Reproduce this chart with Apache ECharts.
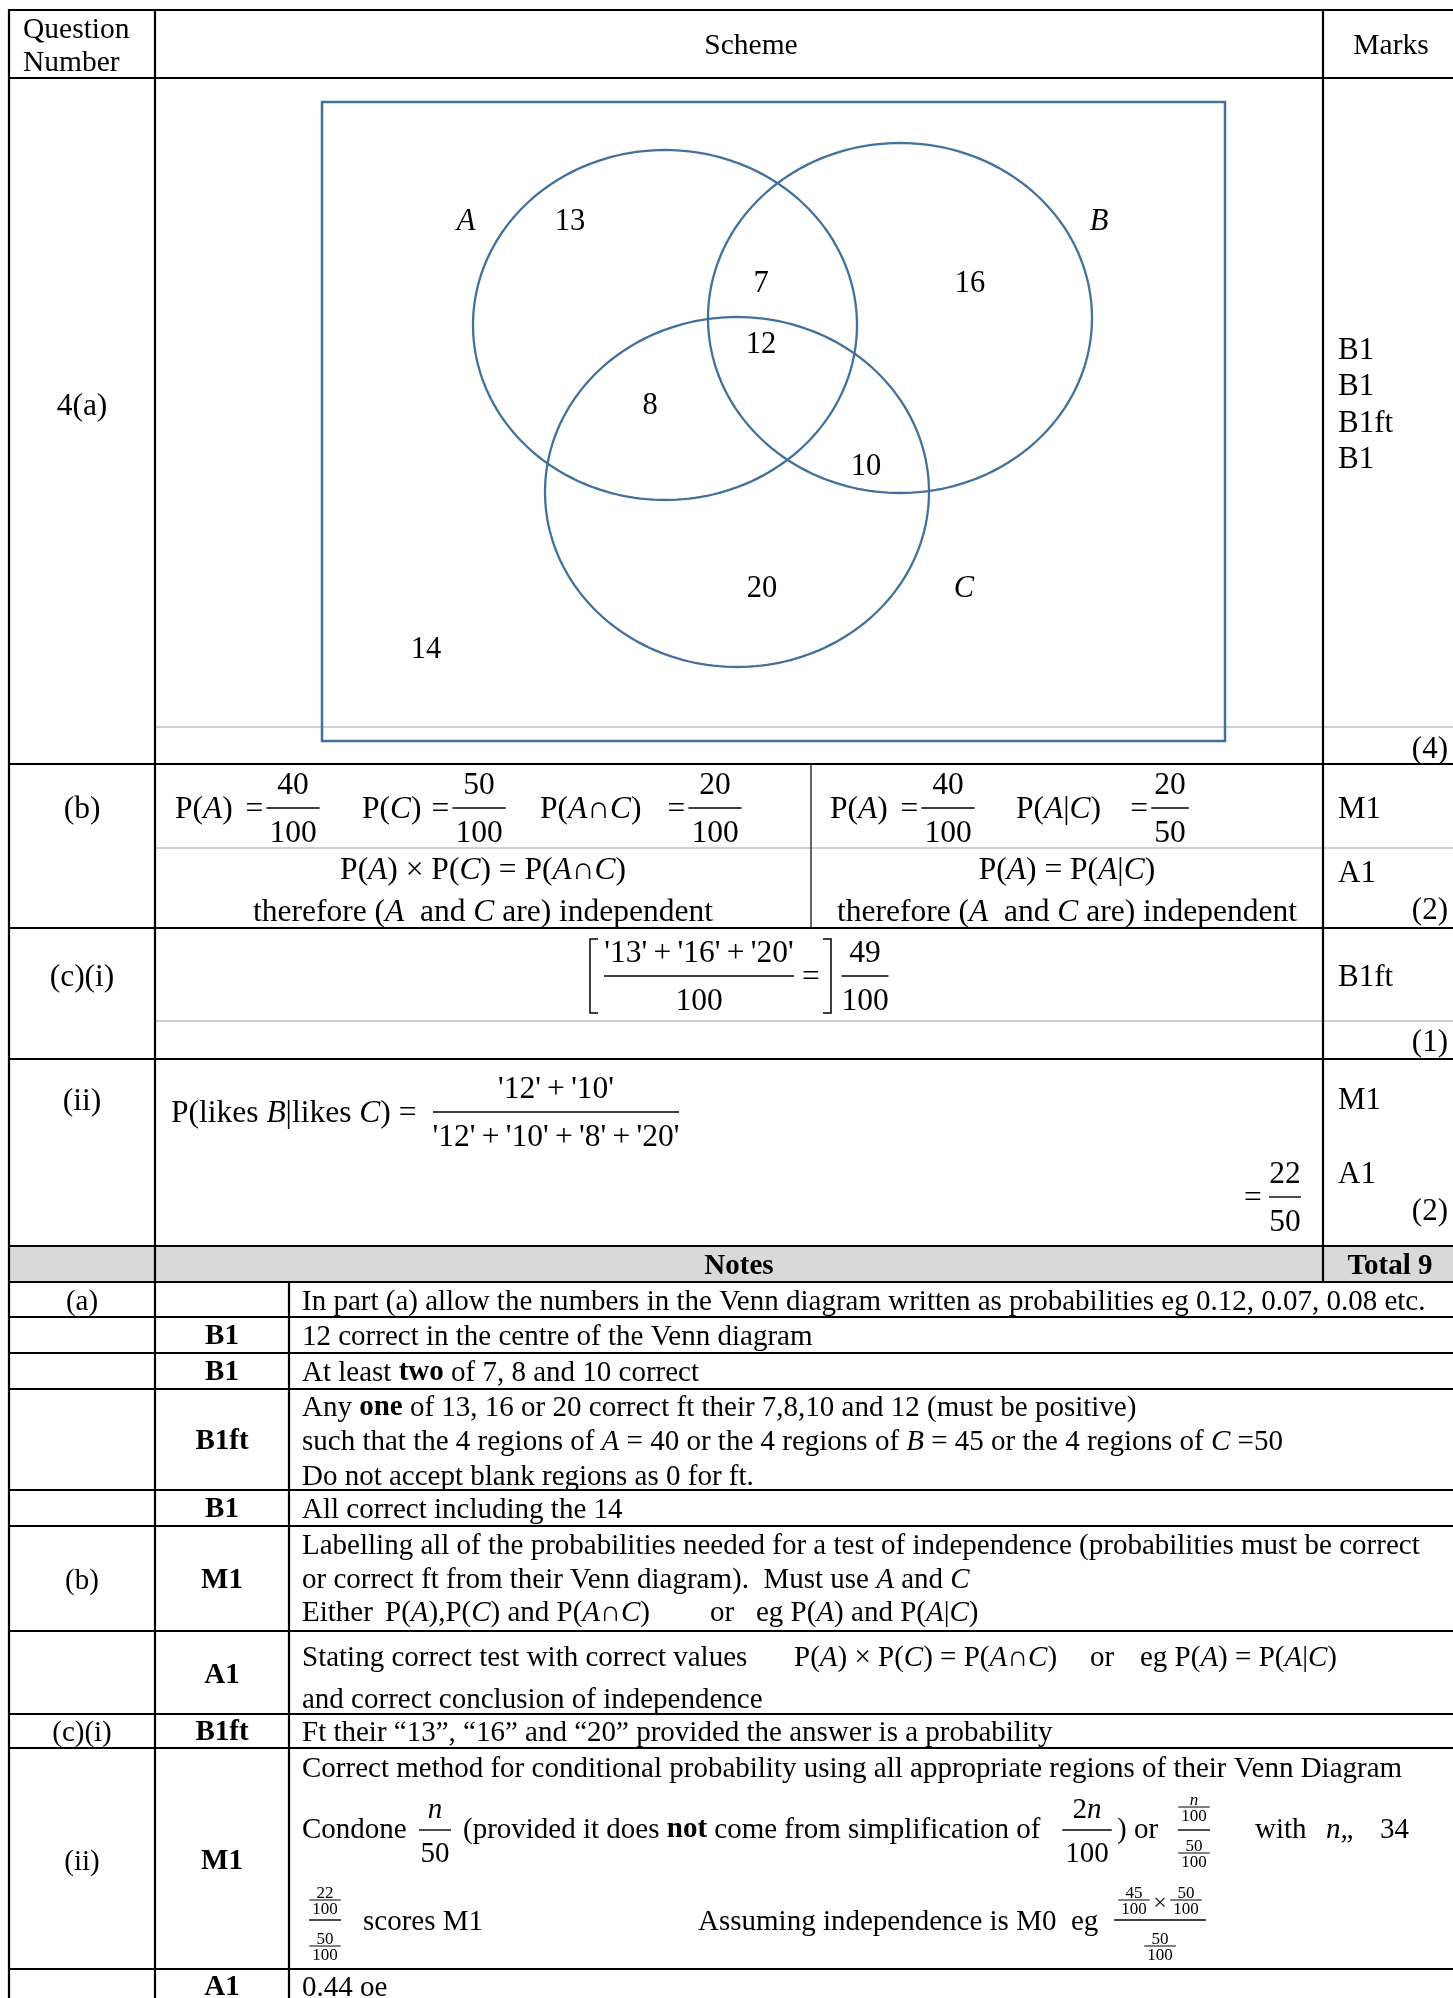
<!DOCTYPE html>
<html>
<head>
<meta charset="utf-8">
<title>Mark scheme 4 - Venn diagram</title>
<script src="https://cdn.jsdelivr.net/npm/echarts@6.0.0/dist/echarts.min.js"></script>
<style>
  html, body { margin: 0; padding: 0; background: #fff; }
  #main { width: 1453px; height: 1998px; }
</style>
</head>
<body>
<div id="main"></div>
<script>
// ---- values ----
const setNames = ['A', 'B', 'C']
// regions: A only, A&B only, B only, A&B&C, A&C only, B&C only, C only, outside
const regionCounts = [13, 7, 16, 12, 8, 10, 20, 14]
const setMembers = { A: [0, 1, 3, 4], B: [1, 2, 3, 5], C: [3, 4, 5, 6] }
const marksA = ['B1', 'B1', 'B1ft', 'B1']
const marksB = ['M1', 'A1']
const marksCi = ['B1ft']
const marksCii = ['M1', 'A1']
const partTotals = ['(4)', '(2)', '(1)', '(2)']

// ---- layout (pixels, the hidden axes run 1:1 with the page) ----
const vennBox = [[322, 102, 1225, 741]]
const vennEllipses = [[665, 325, 192, 175], [900, 318, 192, 175], [737, 492, 192, 175]]
const regionAnchors = [[570, 222], [761, 284], [970, 284], [761, 345], [650, 406], [866, 467], [762, 589], [426, 650]]
const setLabelAnchors = [[466, 222], [1099, 222], [964, 589]]

const SERIF = '"Liberation Serif", "Times New Roman", Times, serif'
const FS = 29        // notes
const FS_HEAD = 29.5
const FS_SCH = 31.5  // scheme cells
const FS_MARK = 31
const FS_VENN = 30.5
const DY = 2
const BLUE = '#41719c'
const TH = '\u2009'  // thin space

// derived counts
const sum = idx => idx.reduce((a, i) => a + regionCounts[i], 0)
const total = regionCounts.reduce((a, b) => a + b, 0)
const nA = sum(setMembers.A)
const nC = sum(setMembers.C)
const nAC = sum([3, 4])
const nOnly = sum([0, 2, 6])
const nBC = sum([3, 5])
const q = v => "'" + v + "'"
const plus = arr => arr.map(q).join(TH + '+' + TH)

const ctx = document.createElement('canvas').getContext('2d')
function measure (s, size) {
  ctx.font = size + 'px ' + SERIF
  return ctx.measureText(String(s).replace(/\*/g, '')).width
}

// *x* italic, **x** bold
function richText (s) {
  return String(s).split(/(\*\*[^*]+\*\*|\*[^*]+\*)/).filter(p => p).map(p => {
    if (p.startsWith('**')) return '{b|' + p.slice(2, -2) + '}'
    if (p.startsWith('*')) return '{i|' + p.slice(1, -1) + '}'
    return '{n|' + p + '}'
  }).join('')
}

function T (x, y, s, o) {
  o = o || {}
  const size = o.size || FS
  const align = o.align || 'left'
  const st = (fontStyle, fontWeight) => ({ fontFamily: SERIF, fontSize: size, fontStyle, fontWeight, fill: '#000', lineHeight: size * 1.15 })
  return {
    type: 'text', x, y: y + DY, z: 10, silent: true,
    style: {
      text: richText(s),
      rich: { n: st('normal', 'normal'), i: st('italic', 'normal'), b: st('normal', 'bold') },
      fontFamily: SERIF, fontSize: size, fill: '#000',
      align, verticalAlign: 'middle', textAlign: align, textVerticalAlign: 'middle'
    }
  }
}
const S = (x, y, s, o) => T(x, y, s, Object.assign({ size: FS_SCH }, o))
const M = (x, y, s, o) => T(x, y, s, Object.assign({ size: FS_MARK }, o))

function L (x1, y1, x2, y2, w, c) {
  return { type: 'line', z: 5, silent: true, shape: { x1, y1, x2, y2 }, style: { stroke: c || '#000', lineWidth: w || 2 } }
}

function frac (cx, y, num, den, o) {
  o = o || {}
  const size = o.size || FS_SCH
  const gap = o.gap || Math.round(size * 0.76)
  const w = o.width || Math.max(measure(num, size), measure(den, size)) + (o.pad || 6)
  return [
    T(cx, y - gap, String(num), { align: 'center', size }),
    T(cx, y + gap, String(den), { align: 'center', size }),
    L(cx - w / 2, y, cx + w / 2, y, o.lw || 1.4)
  ]
}

// "P(..) = num/den" with the equals sign just before the fraction bar
function probEq (x, label, cx, num, den) {
  const fr = frac(cx, 808, num, den)
  const barStart = fr[2].shape.x1
  return [S(x, 808, label), S(barStart - 12, 808, '=', { align: 'center' })].concat(fr)
}

const els = []
const add = (...a) => a.forEach(e => Array.isArray(e) ? els.push(...e) : els.push(e))

// ---- table rules ----
const X0 = 9, X1 = 155, X2 = 289, XM = 1323, XR = 1453
const blackRules = [10, 78, 764, 928, 1059, 1246, 1282, 1317, 1353, 1389, 1490, 1526, 1631, 1714, 1748, 1969]
const grayRules = [727, 848, 1021]

add({ type: 'rect', z: 1, silent: true, shape: { x: X0, y: 1246, width: XR - X0, height: 36 }, style: { fill: '#d9d9d9' } })
grayRules.forEach(y => add(L(X1, y, XR, y, 2, '#d0d0d0')))
blackRules.forEach(y => add(L(X0, y, XR, y, 2.2)))
add(L(X0, 9, X0, 1998, 2.2), L(X1, 9, X1, 1998, 2.2), L(XM, 9, XM, 1282, 2.2), L(X2, 1282, X2, 1998, 2.2))
add(L(811, 764, 811, 928, 1.2))

// ---- header ----
add(T(23, 28, 'Question', { size: FS_HEAD }), T(23, 61, 'Number', { size: FS_HEAD }))
add(T(751, 44, 'Scheme', { align: 'center', size: FS_HEAD }), T(1391, 44, 'Marks', { align: 'center', size: FS_HEAD }))

// ---- (a) ----
add(S(82, 405, '4(a)', { align: 'center' }))
marksA.forEach((m, i) => add(M(1338, 349 + i * 36.3, m)))
add(M(1448, 748, partTotals[0], { align: 'right' }))

// ---- (b) ----
add(S(82, 808, '(b)', { align: 'center' }))
add(probEq(175, 'P(*A*)', 293, nA, total))
add(probEq(362, 'P(*C*)', 479, nC, total))
add(probEq(540, 'P(*A*∩*C*)', 715, nAC, total))
add(probEq(830, 'P(*A*)', 948, nA, total))
add(probEq(1016, 'P(*A*|*C*)', 1170, nAC, nC))
add(S(483, 869, 'P(*A*) × P(*C*) = P(*A*∩*C*)', { align: 'center' }))
add(S(483, 911, 'therefore (*A*  and *C* are) independent', { align: 'center' }))
add(S(1067, 869, 'P(*A*) = P(*A*|*C*)', { align: 'center' }))
add(S(1067, 911, 'therefore (*A*  and *C* are) independent', { align: 'center' }))
add(M(1338, 808, marksB[0]), M(1338, 872, marksB[1]), M(1448, 909, partTotals[1], { align: 'right' }))

// ---- (c)(i) ----
add(S(82, 976, '(c)(i)', { align: 'center' }))
add({ type: 'polyline', z: 5, silent: true, shape: { points: [[598, 939], [590, 939], [590, 1013], [598, 1013]] }, style: { stroke: '#000', lineWidth: 1.5, fill: null } })
add({ type: 'polyline', z: 5, silent: true, shape: { points: [[823, 939], [831, 939], [831, 1013], [823, 1013]] }, style: { stroke: '#000', lineWidth: 1.5, fill: null } })
add(frac(699, 976, plus([regionCounts[0], regionCounts[2], regionCounts[6]]), total, { width: 190 }))
add(S(811, 976, '=', { align: 'center' }))
add(frac(865, 976, nOnly, total, { width: 47 }))
add(M(1338, 976, marksCi[0]), M(1448, 1041, partTotals[2], { align: 'right' }))

// ---- (ii) ----
add(S(82, 1100, '(ii)', { align: 'center' }))
add(S(171, 1112, 'P(likes *B*|likes *C*) ='))
add(frac(556, 1112, plus([regionCounts[3], regionCounts[5]]),
  plus([regionCounts[3], regionCounts[5], regionCounts[4], regionCounts[6]]), { width: 246 }))
add(S(1253, 1197, '=', { align: 'center' }), frac(1285, 1197, nBC, nC, { width: 32 }))
add(M(1338, 1099, marksCii[0]), M(1338, 1173, marksCii[1]), M(1448, 1210, partTotals[3], { align: 'right' }))

// ---- notes ----
const NX = 302
const MC = 222
add(T(739, 1265, '**Notes**', { align: 'center' }), T(1390, 1265, '**Total 9**', { align: 'center' }))

add(T(82, 1300, '(a)', { align: 'center' }))
add(T(NX, 1300, 'In part (a) allow the numbers in the Venn diagram written as probabilities eg 0.12, 0.07, 0.08 etc.'))
add(T(MC, 1335, '**B1**', { align: 'center' }), T(NX, 1335, '12 correct in the centre of the Venn diagram'))
add(T(MC, 1371, '**B1**', { align: 'center' }), T(NX, 1371, 'At least **two** of 7, 8 and 10 correct'))
add(T(MC, 1440, '**B1ft**', { align: 'center' }))
add(T(NX, 1406, 'Any **one** of 13, 16 or 20 correct ft their 7,8,10 and 12 (must be positive)'))
add(T(NX, 1440, 'such that the 4 regions of *A* = 40 or the 4 regions of *B* = 45 or the 4 regions of *C* =50'))
add(T(NX, 1475, 'Do not accept blank regions as 0 for ft.'))
add(T(MC, 1508, '**B1**', { align: 'center' }), T(NX, 1508, 'All correct including the 14'))

add(T(82, 1579, '(b)', { align: 'center' }), T(MC, 1579, '**M1**', { align: 'center' }))
add(T(NX, 1544, 'Labelling all of the probabilities needed for a test of independence (probabilities must be correct'))
add(T(NX, 1578, 'or correct ft from their Venn diagram).  Must use *A* and *C*'))
add(T(NX, 1611, 'Either'), T(385, 1611, 'P(*A*),P(*C*) and P(*A*∩*C*)'), T(710, 1611, 'or'), T(756, 1611, 'eg P(*A*) and P(*A*|*C*)'))

add(T(MC, 1674, '**A1**', { align: 'center' }))
add(T(NX, 1656, 'Stating correct test with correct values'), T(794, 1656, 'P(*A*) × P(*C*) = P(*A*∩*C*)'),
  T(1090, 1656, 'or'), T(1140, 1656, 'eg P(*A*) = P(*A*|*C*)'))
add(T(NX, 1698, 'and correct conclusion of independence'))

add(T(82, 1731, '(c)(i)', { align: 'center' }), T(MC, 1731, '**B1ft**', { align: 'center' }))
add(T(NX, 1731, 'Ft their “13”, “16” and “20” provided the answer is a probability'))

add(T(82, 1860, '(ii)', { align: 'center' }), T(MC, 1860, '**M1**', { align: 'center' }))
add(T(NX, 1767, 'Correct method for conditional probability using all appropriate regions of their Venn Diagram'))
add(T(NX, 1828, 'Condone'), frac(435, 1830, '*n*', '50', { width: 32, size: FS }))
add(T(463, 1828, '(provided it does **not** come from simplification of'), frac(1087, 1830, '2*n*', '100', { size: FS }))
add(T(1117, 1828, ') or'))
add(frac(1194, 1807, '*n*', '100', { size: 17, gap: 8, lw: 1 }), L(1178, 1830, 1210, 1830, 1.4), frac(1194, 1853, '50', '100', { size: 17, gap: 8, lw: 1 }))
add(T(1255, 1828, 'with'), T(1326, 1828, '*n*„'), T(1380, 1828, '34'))

add(frac(325, 1900, '22', '100', { size: 17, gap: 8, lw: 1 }), L(309, 1920, 341, 1920, 1.4), frac(325, 1946, '50', '100', { size: 17, gap: 8, lw: 1 }))
add(T(363, 1920, 'scores M1'), T(698, 1920, 'Assuming independence is M0  eg'))
add(frac(1134, 1900, '45', '100', { size: 17, gap: 8, lw: 1 }), T(1160, 1902, '×', { align: 'center', size: 24 }),
  frac(1186, 1900, '50', '100', { size: 17, gap: 8, lw: 1 }))
add(L(1114, 1920, 1206, 1920, 1.4), frac(1160, 1946, '50', '100', { size: 17, gap: 8, lw: 1 }))

add(T(MC, 1986, '**A1**', { align: 'center' }), T(NX, 1986, '0.44 oe'))

// ---- chart ----
const chart = echarts.init(document.getElementById('main'))

function ellipseItem (params, api) {
  const cx = api.value(0)
  const cy = api.value(1)
  const rx = api.value(2)
  const ry = api.value(3)
  const pts = []
  for (let k = 0; k < 200; k++) {
    const t = k / 200 * Math.PI * 2
    pts.push(api.coord([cx + rx * Math.cos(t), cy + ry * Math.sin(t)]))
  }
  return { type: 'polygon', shape: { points: pts }, style: { fill: 'none', stroke: BLUE, lineWidth: 2.3 } }
}

function boxItem (params, api) {
  const p0 = api.coord([api.value(0), api.value(1)])
  const p1 = api.coord([api.value(2), api.value(3)])
  return { type: 'rect', shape: { x: p0[0], y: p0[1], width: p1[0] - p0[0], height: p1[1] - p0[1] }, style: { fill: 'none', stroke: BLUE, lineWidth: 2.5 } }
}

function labelItem (italic) {
  return function (params, api) {
    const p = api.coord([api.value(0), api.value(1)])
    const text = italic ? setNames[params.dataIndex] : String(api.value(2))
    return {
      type: 'text', x: p[0], y: p[1],
      style: {
        text, fill: '#000', fontFamily: SERIF, fontSize: FS_VENN, fontStyle: italic ? 'italic' : 'normal',
        align: 'center', verticalAlign: 'middle', textAlign: 'center', textVerticalAlign: 'middle'
      }
    }
  }
}

const option = {
  backgroundColor: '#fff',
  animation: false,
  grid: { left: 0, right: 0, top: 0, bottom: 0 },
  xAxis: { type: 'value', min: 0, max: 1453, show: false },
  yAxis: { type: 'value', min: 0, max: 1998, inverse: true, show: false },
  series: [
    { type: 'custom', name: 'universe', silent: true, z: 6, data: vennBox, renderItem: boxItem },
    { type: 'custom', name: 'sets', silent: true, z: 6, data: vennEllipses, renderItem: ellipseItem },
    {
      type: 'custom', name: 'counts', silent: true, z: 7,
      data: regionAnchors.map((p, i) => [p[0], p[1], regionCounts[i]]),
      renderItem: labelItem(false)
    },
    {
      type: 'custom', name: 'set labels', silent: true, z: 7,
      data: setLabelAnchors,
      renderItem: labelItem(true)
    }
  ],
  graphic: { elements: els }
}

chart.setOption(option)
</script>
</body>
</html>
